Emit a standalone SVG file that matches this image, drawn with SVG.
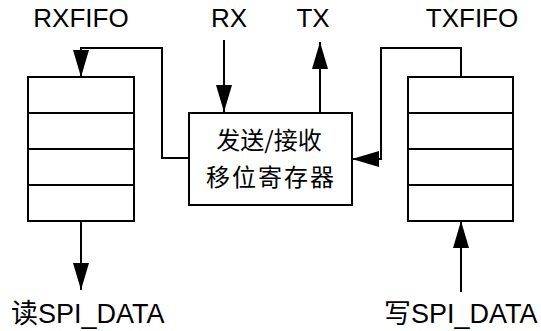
<svg xmlns="http://www.w3.org/2000/svg" width="541" height="331" viewBox="0 0 541 331">
<style>
  .lbl { font-family: "Liberation Sans", "Noto Sans CJK SC", Arial, sans-serif; font-size: 26px; fill: #000; }
  .bot { font-size: 27px; }
  .cjk { font-family: "Noto Sans CJK SC", "Liberation Sans", sans-serif; font-size: 24px; fill: #000; }
  .box { fill: #fff; stroke: #000; stroke-width: 2; }
  .row { stroke: #000; stroke-width: 2; fill: none; }
  .wire { fill: none; stroke: #000; stroke-width: 2; marker-end: url(#arr); }
</style>
<defs>
  <marker id="arr" markerUnits="userSpaceOnUse" markerWidth="28" markerHeight="18" refX="27" refY="8" orient="auto">
    <path d="M0,0 L27,8 L0,16 Z" fill="#000"/>
  </marker>
</defs>
<rect width="541" height="331" fill="#fff"/>

<g id="rxfifo">
  <rect class="box" x="28" y="77" width="106" height="144"/>
  <line class="row" x1="28" y1="113" x2="134" y2="113"/>
  <line class="row" x1="28" y1="149" x2="134" y2="149"/>
  <line class="row" x1="28" y1="185" x2="134" y2="185"/>
  <text class="lbl" x="81" y="27" text-anchor="middle">RXFIFO</text>
</g>

<g id="txfifo">
  <rect class="box" x="408" y="77" width="105" height="144"/>
  <line class="row" x1="408" y1="113" x2="513" y2="113"/>
  <line class="row" x1="408" y1="149" x2="513" y2="149"/>
  <line class="row" x1="408" y1="185" x2="513" y2="185"/>
  <text class="lbl" x="472" y="27" text-anchor="middle">TXFIFO</text>
</g>

<g id="shift">
  <rect class="box" x="189" y="113" width="163" height="92"/>
  <text class="cjk" x="269" y="149" text-anchor="middle">发送/接收</text>
  <text class="cjk" x="271" y="186" text-anchor="middle" letter-spacing="2">移位寄存器</text>
</g>

<g id="rx"><text class="lbl" x="229" y="27" text-anchor="middle">RX</text></g>
<g id="tx"><text class="lbl" x="313" y="27" text-anchor="middle">TX</text></g>
<g id="read"><text class="lbl bot" x="11" y="323">读SPI_DATA</text></g>
<g id="write"><text class="lbl bot" x="384" y="323">写SPI_DATA</text></g>

<g id="connectors">
  <polyline class="wire" points="224,40 224,112"/>
  <polyline class="wire" points="320,113 320,42"/>
  <polyline class="wire" points="189,158 162,158 162,48 81,48 81,77"/>
  <polyline class="wire" points="461,77 461,48 381,48 381,159 352,159"/>
  <polyline class="wire" points="81,221 81,290"/>
  <polyline class="wire" points="461,292 461,221"/>
</g>
</svg>
